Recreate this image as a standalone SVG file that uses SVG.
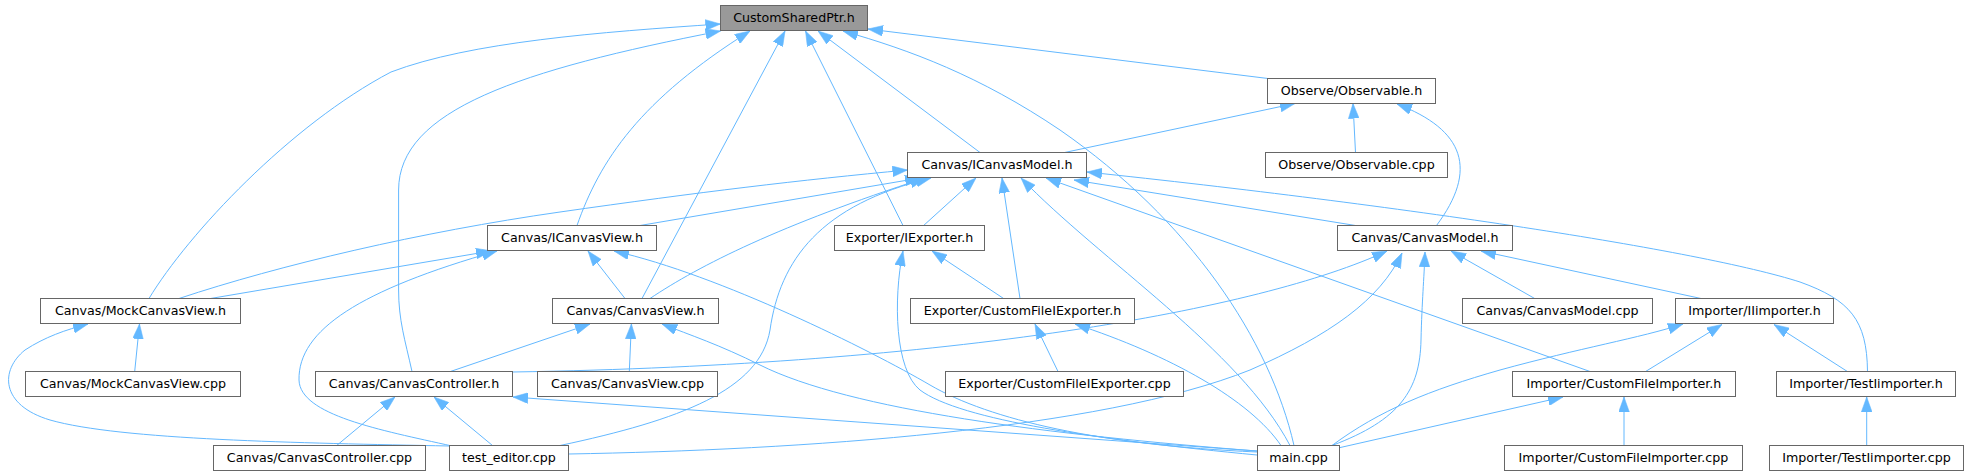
<svg xmlns="http://www.w3.org/2000/svg" width="1969" height="476" viewBox="0 0 1969 476">
<style>
.node rect{fill:#ffffff;stroke:#666666;stroke-width:1}
.root rect{fill:#999999;stroke:#666666;stroke-width:1}
.node text{font-family:"DejaVu Sans","Liberation Sans",sans-serif;font-size:12.67px;fill:#000000;text-anchor:middle}
#edges path{fill:none;stroke:#63b8ff;stroke-width:1;marker-end:url(#arr)}
</style>
<defs>
<marker id="arr" markerUnits="userSpaceOnUse" markerWidth="15" markerHeight="11" viewBox="0 0 14 10" refX="14" refY="5" orient="auto">
<path d="M0,0 L14,5 L0,10 z" fill="#63b8ff" stroke="#63b8ff" stroke-width="0.5"/>
</marker>
</defs>
<rect width="1969" height="476" fill="#ffffff"/>
<g id="edges">
<!-- to CustomSharedPtr.h -->
<path d="M149,298.5 C188,234 290,125 391,72 C470,42 600,32 720.5,24"/>
<path d="M412,371.5 C405,340 398.6,320 398.6,290 L398.6,190 C398.6,110 520,70 720.5,31"/>
<path d="M577,225.5 C600,160 640,100 750,31"/>
<path d="M642,298.5 L785,31"/>
<path d="M903,225.5 L805.5,31"/>
<path d="M980,152.5 L818,31"/>
<path d="M1294,445.5 C1270,340 1190,220 1060,130 C980,76 910,50 843,31"/>
<path d="M1268,78.5 L868,29"/>
<!-- to Observable.h -->
<path d="M1064.6,152.5 L1295,103.5"/>
<path d="M1355.5,152.5 L1353,103.5"/>
<path d="M1436.5,225.5 C1478,170 1465,130 1397,104"/>
<!-- to ICanvasModel.h -->
<path d="M179,298.5 C280,265 420,232 560,212 C700,192 800,180 907.5,170"/>
<path d="M640,225.5 L920,178"/>
<path d="M650,298.5 C700,265 780,225 925,178"/>
<path d="M560,445.5 C680,420 760,390 770,330 C780,260 820,205 931,178"/>
<path d="M923.6,225.5 L976,178"/>
<path d="M1020,298.5 L1002,178"/>
<path d="M1290,445.5 C1240,350 1100,260 1021,178"/>
<path d="M1355.5,225.5 L1074,180"/>
<path d="M1590,371.5 L1046,178"/>
<path d="M1867.5,371.5 C1867,320 1850,300 1800,282 C1700,250 1400,205 1087,172"/>
<!-- to ICanvasView.h -->
<path d="M210.5,298.5 L491,251"/>
<path d="M452,446 C380,430 300,415 299,380 C298,330 360,290 497,251"/>
<path d="M625,298.5 L588,251"/>
<path d="M1257,452 C1100,445 990,420 930,385 C870,350 720,275 614,251"/>
<!-- to IExporter.h -->
<path d="M1003.6,298.5 L932,251"/>
<path d="M1257,455 C1100,440 960,420 920,390 C895,370 893,300 903,251"/>
<!-- to CanvasModel.h -->
<path d="M512.5,372 C950,365 1260,310 1387,251"/>
<path d="M568.5,454 C800,450 1100,430 1250,370 C1330,335 1380,300 1402,253"/>
<path d="M1332,445.5 C1400,420 1420,390 1421,340 C1422,300 1424,280 1425,252"/>
<path d="M1534.7,298.5 L1451,251"/>
<path d="M1701,298.5 L1481,251"/>
<!-- to MockCanvasView.h -->
<path d="M134.7,371.5 L139.5,324"/>
<path d="M449.5,446 C300,443 120,440 50,420 C0,405 0,370 25,350 C45,337 65,330 88,324"/>
<!-- to CanvasView.h -->
<path d="M450.4,371.5 L590,324"/>
<path d="M629.3,371.5 L631.4,324"/>
<path d="M1257,451 C1050,435 850,410 760,365 C720,345 690,335 662,324"/>
<!-- to CustomFileIExporter.h -->
<path d="M1058,371.5 L1035,324"/>
<path d="M1281,445.5 C1250,400 1170,355 1075,324"/>
<!-- to IIimporter.h -->
<path d="M1332,445.5 C1380,410 1430,390 1500,370 C1580,348 1640,338 1683,324"/>
<path d="M1645.6,371.5 L1722,324.5"/>
<path d="M1847.4,371.5 L1774,324.5"/>
<!-- to CanvasController.h -->
<path d="M336.7,445.5 L395,397"/>
<path d="M492.5,445.5 L434,397"/>
<path d="M1257,451 L513,397"/>
<!-- to CustomFileImporter.h -->
<path d="M1339.5,447.7 L1563,397"/>
<path d="M1624,445.5 L1624,397"/>
<!-- to TestIimporter.h -->
<path d="M1866.7,445.5 L1866.7,397"/>
</g>
<g id="n1" class="node root"><rect x="720.5" y="5.5" width="147" height="25"/><text x="794" y="22.2">CustomSharedPtr.h</text></g>
<g id="n2" class="node"><rect x="1267.5" y="78.5" width="168" height="25"/><text x="1351.5" y="95.2">Observe/Observable.h</text></g>
<g id="n3" class="node"><rect x="907.5" y="152.5" width="179" height="25"/><text x="997" y="169.2">Canvas/ICanvasModel.h</text></g>
<g id="n4" class="node"><rect x="1265.5" y="152.5" width="182" height="25"/><text x="1356.5" y="169.2">Observe/Observable.cpp</text></g>
<g id="n5" class="node"><rect x="487.5" y="225.5" width="169" height="25"/><text x="572" y="242.2">Canvas/ICanvasView.h</text></g>
<g id="n6" class="node"><rect x="834.5" y="225.5" width="150" height="25"/><text x="909.5" y="242.2">Exporter/IExporter.h</text></g>
<g id="n7" class="node"><rect x="1337.5" y="225.5" width="175" height="25"/><text x="1425" y="242.2">Canvas/CanvasModel.h</text></g>
<g id="n8" class="node"><rect x="40.5" y="298.5" width="200" height="25"/><text x="140.5" y="315.2">Canvas/MockCanvasView.h</text></g>
<g id="n9" class="node"><rect x="552.5" y="298.5" width="166" height="25"/><text x="635.5" y="315.2">Canvas/CanvasView.h</text></g>
<g id="n10" class="node"><rect x="910.5" y="298.5" width="224" height="25"/><text x="1022.5" y="315.2">Exporter/CustomFileIExporter.h</text></g>
<g id="n11" class="node"><rect x="1462.5" y="298.5" width="190" height="25"/><text x="1557.5" y="315.2">Canvas/CanvasModel.cpp</text></g>
<g id="n12" class="node"><rect x="1675.5" y="298.5" width="158" height="25"/><text x="1754.5" y="315.2">Importer/IIimporter.h</text></g>
<g id="n13" class="node"><rect x="25.5" y="371.5" width="215" height="25"/><text x="133" y="388.2">Canvas/MockCanvasView.cpp</text></g>
<g id="n14" class="node"><rect x="315.5" y="371.5" width="197" height="25"/><text x="414" y="388.2">Canvas/CanvasController.h</text></g>
<g id="n15" class="node"><rect x="537.5" y="371.5" width="180" height="25"/><text x="627.5" y="388.2">Canvas/CanvasView.cpp</text></g>
<g id="n16" class="node"><rect x="945.5" y="371.5" width="238" height="25"/><text x="1064.5" y="388.2">Exporter/CustomFileIExporter.cpp</text></g>
<g id="n17" class="node"><rect x="1512.5" y="371.5" width="223" height="25"/><text x="1624" y="388.2">Importer/CustomFileImporter.h</text></g>
<g id="n18" class="node"><rect x="1776.5" y="371.5" width="179" height="25"/><text x="1866" y="388.2">Importer/TestIimporter.h</text></g>
<g id="n19" class="node"><rect x="213.5" y="445.5" width="212" height="25"/><text x="319.5" y="462.2">Canvas/CanvasController.cpp</text></g>
<g id="n20" class="node"><rect x="449.5" y="445.5" width="119" height="25"/><text x="509" y="462.2">test_editor.cpp</text></g>
<g id="n21" class="node"><rect x="1257.5" y="445.5" width="82" height="25"/><text x="1298.5" y="462.2">main.cpp</text></g>
<g id="n22" class="node"><rect x="1504.5" y="445.5" width="238" height="25"/><text x="1623.5" y="462.2">Importer/CustomFileImporter.cpp</text></g>
<g id="n23" class="node"><rect x="1769.5" y="445.5" width="194" height="25"/><text x="1866.5" y="462.2">Importer/TestIimporter.cpp</text></g>
</svg>
